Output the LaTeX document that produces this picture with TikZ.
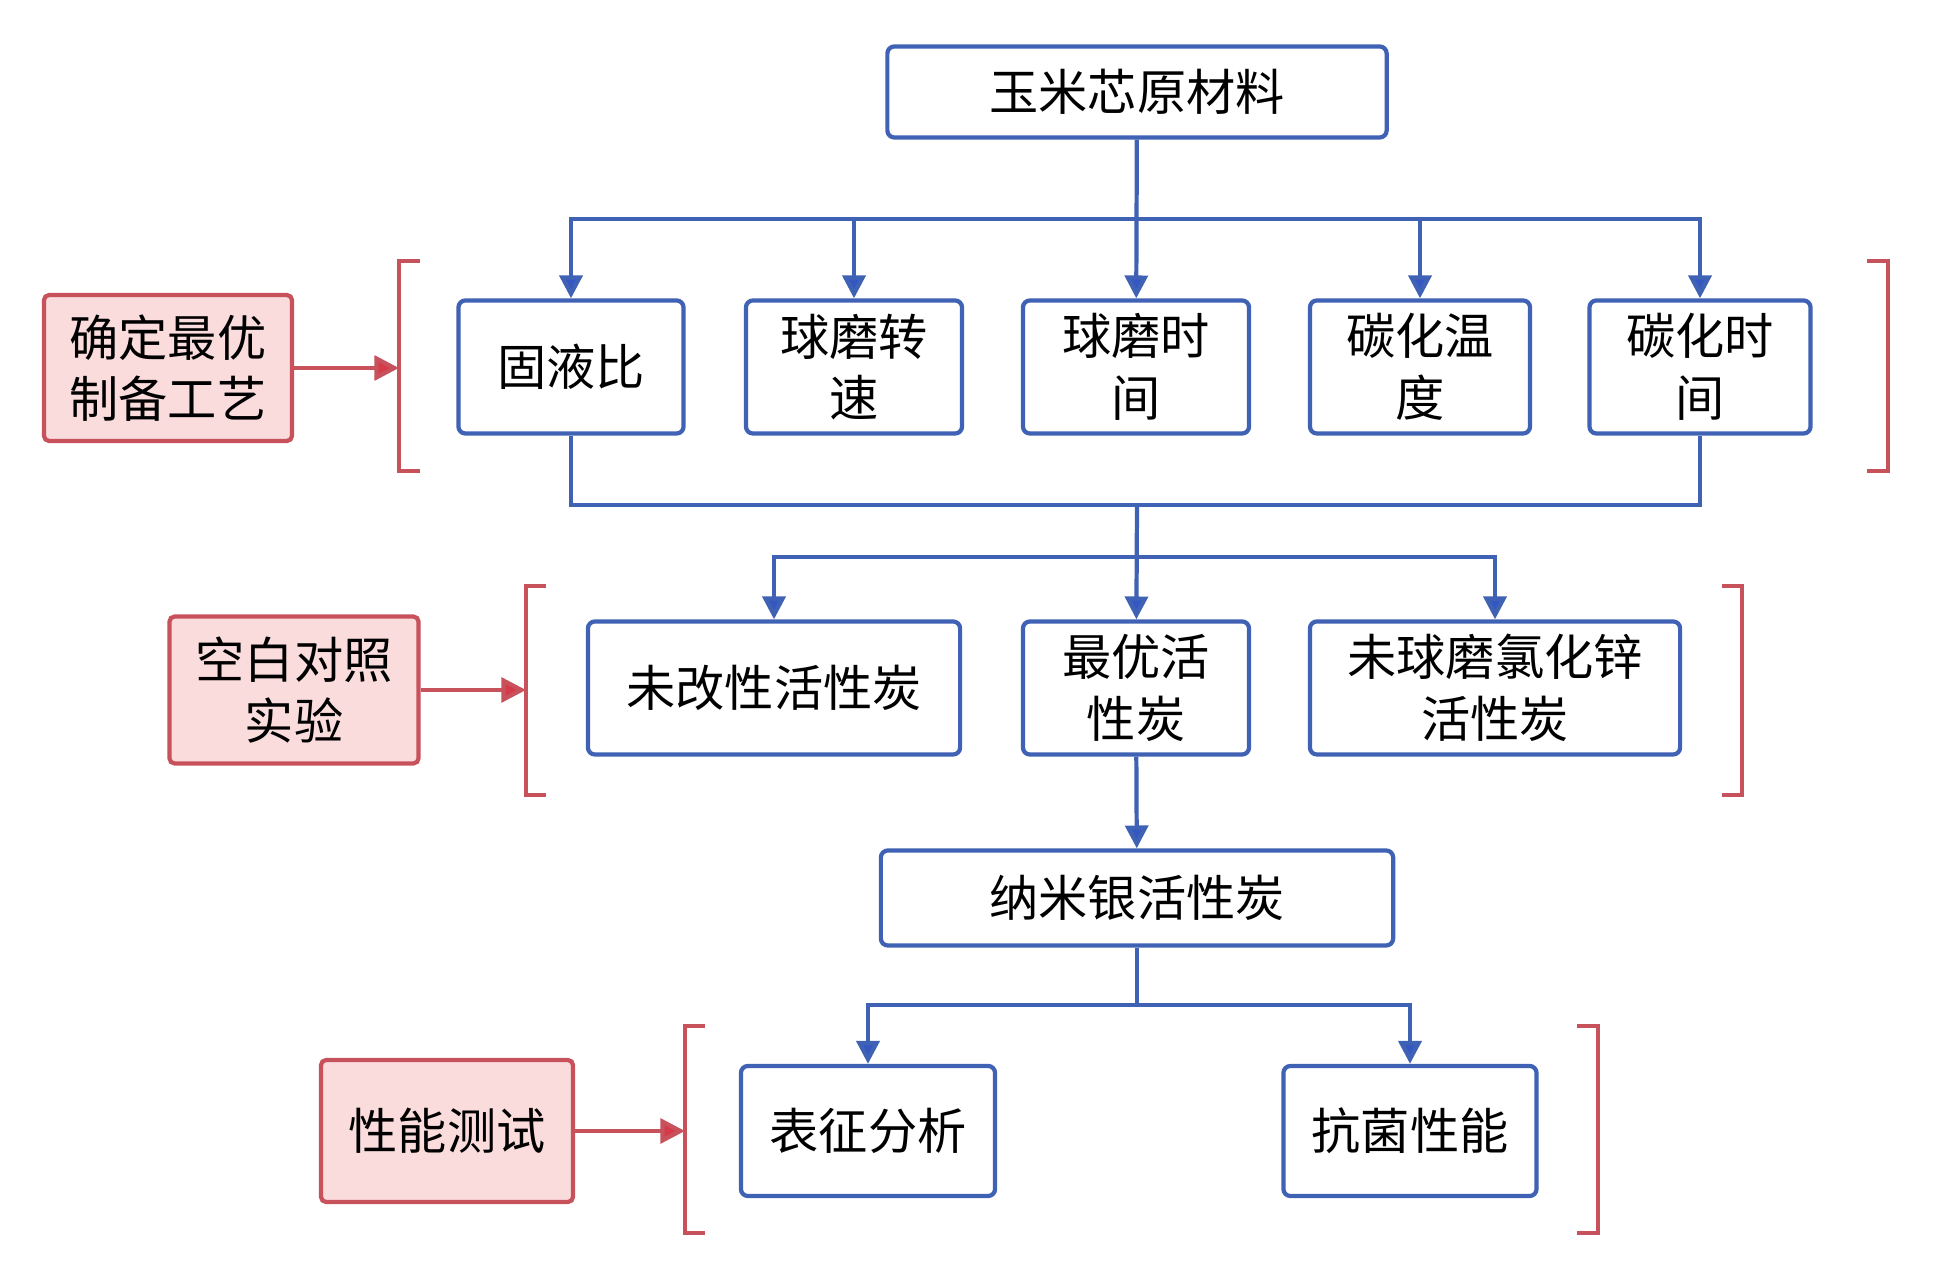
\documentclass[tikz,border=0pt]{standalone}
\usepackage{fontspec}
\setmainfont{Noto Sans CJK SC}
\usepackage{tikz}
\usetikzlibrary{arrows.meta}

\definecolor{boxblue}{HTML}{4062B4}
\definecolor{tipblue}{HTML}{3557C2}
\definecolor{boxred}{HTML}{C8525C}
\definecolor{fillred}{HTML}{FADCDD}
\definecolor{tipred}{HTML}{D43A48}

\begin{document}
\begin{tikzpicture}[x=0.01cm, y=-0.01cm,
	font=\fontsize{14pt}{17.5pt}\selectfont,
	bluebox/.style={draw=boxblue, line width=1.2pt, rounded corners=2pt, fill=white, align=center, inner sep=0pt, minimum height=1.33cm},
	redbox/.style={draw=boxred, line width=1.2pt, rounded corners=1.5pt, fill=fillred, align=center, inner sep=0pt},
	blueline/.style={draw=boxblue, line width=1.2pt},
	bluearr/.style={blueline, -{Triangle[length=6.5pt, width=6.5pt, fill=tipblue]}},
	redarr/.style={draw=boxred, line width=1.2pt, -{Triangle[length=7pt, width=7pt, fill=tipred]}},
	bracket/.style={draw=boxred, line width=1.2pt}]
	\useasboundingbox (0,0) rectangle (1933,1280);

	% raw material
	\node[bluebox, minimum width=4.99cm, minimum height=0.91cm] (T) at (1137,92) {玉米芯原材料};

	% process parameters
	\node[bluebox, minimum width=2.25cm] (A1) at (571,367) {固液比};
	\node[bluebox, minimum width=2.16cm] (A2) at (854,367) {球磨转\\速};
	\node[bluebox, minimum width=2.26cm] (A3) at (1136,367) {球磨时\\间};
	\node[bluebox, minimum width=2.20cm] (A4) at (1420,367) {碳化温\\度};
	\node[bluebox, minimum width=2.21cm] (A5) at (1700,367) {碳化时\\间};

	% samples
	\node[bluebox, minimum width=3.72cm] (B1) at (774,688) {未改性活性炭};
	\node[bluebox, minimum width=2.26cm] (B2) at (1136,688) {最优活\\性炭};
	\node[bluebox, minimum width=3.70cm] (B3) at (1495,688) {未球磨氯化锌\\活性炭};

	\node[bluebox, minimum width=5.12cm, minimum height=0.95cm] (N) at (1137,898) {纳米银活性炭};

	% tests
	\node[bluebox, minimum width=2.54cm, minimum height=1.30cm] (C1) at (868,1131) {表征分析};
	\node[bluebox, minimum width=2.53cm, minimum height=1.30cm] (C2) at (1410,1131) {抗菌性能};

	% side labels
	\node[redbox, minimum width=2.48cm, minimum height=1.46cm] (R1) at (168,368) {确定最优\\制备工艺};
	\node[redbox, minimum width=2.49cm, minimum height=1.47cm] (R2) at (294,690) {空白对照\\实验};
	\node[redbox, minimum width=2.52cm, minimum height=1.42cm] (R3) at (447,1131) {性能测试};

	% brackets
	\draw[bracket] (420,261) -- (399,261) -- (399,471) -- (420,471);
	\draw[bracket] (1867,261) -- (1888,261) -- (1888,471) -- (1867,471);
	\draw[bracket] (546,586) -- (526,586) -- (526,795) -- (546,795);
	\draw[bracket] (1722,586) -- (1742,586) -- (1742,795) -- (1722,795);
	\draw[bracket] (705,1026) -- (685,1026) -- (685,1233) -- (705,1233);
	\draw[bracket] (1577,1026) -- (1598,1026) -- (1598,1233) -- (1577,1233);

	\coordinate (K1) at (399,368);
	\coordinate (K2) at (526,690);
	\coordinate (K3) at (685,1131);
	\draw[redarr] (R1) -- (K1);
	\draw[redarr] (R2) -- (K2);
	\draw[redarr] (R3) -- (K3);

	% blue connectors
	\coordinate (J1) at (1137,219);
	\coordinate (J2) at (1137,505);
	\coordinate (J3) at (1137,557);
	\coordinate (J4) at (1137,1005);

	\draw[bluearr] (T) -- (A3);
	\draw[bluearr] (J1) -| (A1);
	\draw[bluearr] (J1) -| (A2);
	\draw[bluearr] (J1) -| (A4);
	\draw[bluearr] (J1) -| (A5);

	\draw[blueline] (A1) |- (J2) -| (A5);
	\draw[bluearr] (J2) -- (B2);
	\draw[bluearr] (J3) -| (B1);
	\draw[bluearr] (J3) -| (B3);

	\draw[bluearr] (B2) -- (N);

	\draw[blueline] (N) -- (J4);
	\draw[bluearr] (J4) -| (C1);
	\draw[bluearr] (J4) -| (C2);
\end{tikzpicture}
\end{document}
